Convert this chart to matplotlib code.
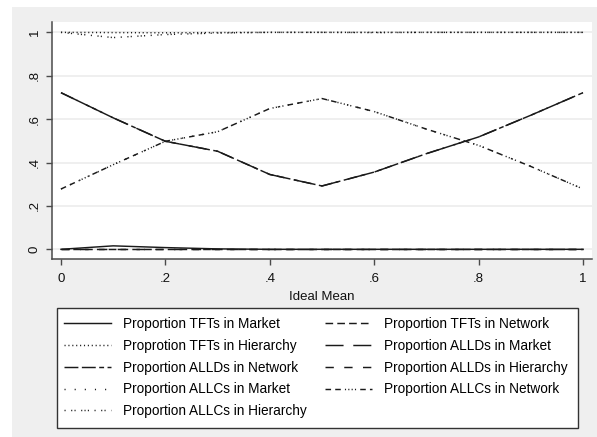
import matplotlib
matplotlib.use("Agg")
import matplotlib.pyplot as plt
from matplotlib.patches import Rectangle

plt.rcParams['font.family'] = ['Liberation Sans', 'DejaVu Sans']
plt.rcParams['lines.scale_dashes'] = False

# Ideal mean grid
ideal_mean = [0.0, 0.1, 0.2, 0.3, 0.4, 0.5, 0.6, 0.7, 0.8, 0.9, 1.0]

tft_market = [0.0, 0.016, 0.008, 0.002, 0.0, 0.0, 0.0, 0.0, 0.0, 0.0, 0.0]
tft_network = [0.0, 0.0, 0.0, 0.0, 0.0, 0.0, 0.0, 0.0, 0.0, 0.0, 0.0]
tft_hierarchy = [1.0, 0.999, 0.998, 0.999, 1.0, 1.0, 1.0, 1.0, 1.0, 1.0, 1.0]
alld_market = [0.722, 0.606, 0.498, 0.452, 0.345, 0.292, 0.356, 0.441, 0.518, 0.618, 0.722]
alld_network = [0.722, 0.606, 0.498, 0.452, 0.345, 0.292, 0.356, 0.441, 0.518, 0.618, 0.722]
alld_hierarchy = [0.0, 0.0, 0.0, 0.0, 0.0, 0.0, 0.0, 0.0, 0.0, 0.0, 0.0]
allc_market = [0.278, 0.390, 0.498, 0.542, 0.649, 0.695, 0.635, 0.554, 0.479, 0.382, 0.278]
allc_network = [0.278, 0.390, 0.498, 0.542, 0.649, 0.695, 0.635, 0.554, 0.479, 0.382, 0.278]
allc_hierarchy = [1.0, 0.976, 0.99, 0.997, 1.0, 1.0, 0.999, 1.0, 1.0, 1.0, 1.0]

labels = [
    "Proportion TFTs in Market",
    "Proportion TFTs in Network",
    "Proprotion TFTs in Hierarchy",
    "Proportion ALLDs in Market",
    "Proportion ALLDs in Network",
    "Proportion ALLDs in Hierarchy",
    "Proportion ALLCs in Market",
    "Proportion ALLCs in Network",
    "Proportion ALLCs in Hierarchy",
]
series = [tft_market, tft_network, tft_hierarchy,
          alld_market, alld_network, alld_hierarchy,
          allc_market, allc_network, allc_hierarchy]

styles = [
    '-',
    (0, (5.5, 3.0)),
    (0, (0.8, 2.0)),
    (0, (13.0, 7.0)),
    (0, (10.0, 2.5, 10.0, 2.5, 3.5, 2.5)),
    (0, (6.0, 7.5)),
    (0, (0.8, 6.5)),
    (0, (4.0, 3.0, 4.0, 3.0, 0.8, 1.6, 0.8, 1.6, 0.8, 1.6, 0.8, 3.0)),
    (0, (0.8, 4.0, 0.8, 1.6, 0.8, 4.0, 0.8, 1.6, 0.8, 1.6, 0.8, 4.0)),
]

W, H = 597, 437
fig = plt.figure(figsize=(W / 100, H / 100), dpi=100)
fig.patch.set_facecolor('white')
fig.add_artist(Rectangle((12 / W, 0), 1, (H - 7) / H, transform=fig.transFigure,
                         facecolor='#efefef', edgecolor='none', zorder=0))

ax = fig.add_axes([51.7 / W, 1 - 259.3 / H, (592 - 51.7) / W, (259.3 - 22) / H])
ax.set_facecolor('white')
ax.set_xlim(-0.0178, 1.0172)
ax.set_ylim(-0.046, 1.0478)

for yv in [0, 0.2, 0.4, 0.6, 0.8, 1.0]:
    ax.axhline(yv, color='#ebebeb', lw=1.1, zorder=0)

handles = []
for vals, st, lab in zip(series, styles, labels):
    ln, = ax.plot(ideal_mean, vals, color='#1a1a1a', lw=1.05, linestyle=st, label=lab)
    handles.append(ln)

for side in ['top', 'right']:
    ax.spines[side].set_visible(False)
for side in ['left', 'bottom']:
    ax.spines[side].set_color('#4a4a4a')
    ax.spines[side].set_linewidth(1.1)

ax.set_xticks([0, 0.2, 0.4, 0.6, 0.8, 1.0])
ax.set_xticklabels(['0', '.2', '.4', '.6', '.8', '1'])
ax.set_yticks([0, 0.2, 0.4, 0.6, 0.8, 1.0])
ax.set_yticklabels(['0', '.2', '.4', '.6', '.8', '1'], rotation=90, va='center')
ax.tick_params(axis='x', pad=6)
ax.tick_params(axis='y', pad=4)
ax.tick_params(axis='both', direction='out', length=4, width=1.0, color='#4a4a4a',
               labelsize=9.5, labelcolor='#111111')
ax.set_xlabel('Ideal Mean', fontsize=9.5, color='#111111', labelpad=4)

# legend box
fig.add_artist(Rectangle((57 / W, 1 - 427.5 / H), (578 - 57) / W, (427.5 - 308) / H,
                         transform=fig.transFigure, facecolor='white',
                         edgecolor='#333333', lw=1.0, zorder=1))

order = [0, 2, 4, 6, 8, 1, 3, 5, 7]
leg = fig.legend([handles[i] for i in order], [labels[i] for i in order],
                 ncol=2, loc='upper left',
                 bbox_to_anchor=(64 / W, 1 - 317 / H),
                 fontsize=9.8, frameon=False,
                 handlelength=3.45, handletextpad=0.88, columnspacing=1.35,
                 labelspacing=0.57, borderpad=0, borderaxespad=0)
leg.set_zorder(2)

fig.savefig('out.png', dpi=100)
